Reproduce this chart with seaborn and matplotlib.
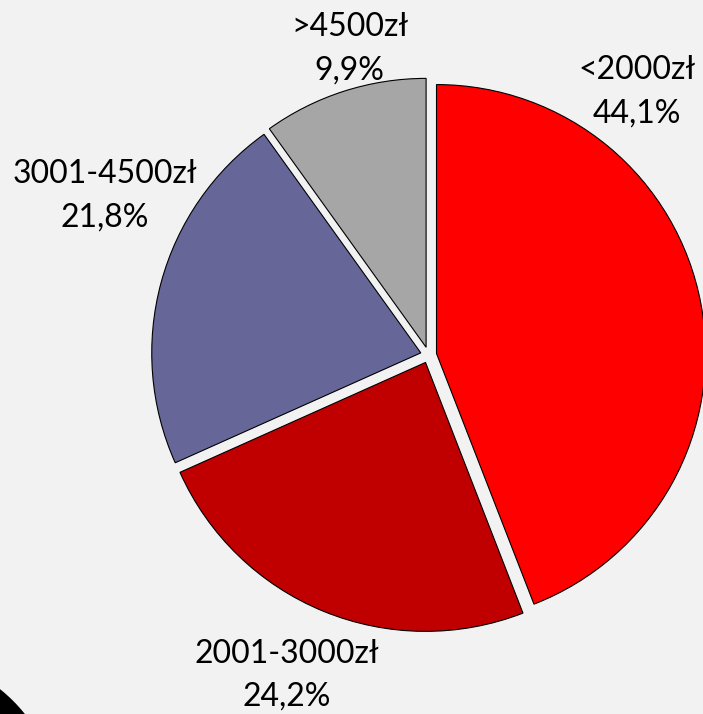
import matplotlib
matplotlib.use("Agg")
import matplotlib.pyplot as plt
import seaborn as sns
from matplotlib.patches import Circle

# data
categories = ["<2000zł", "2001-3000zł", "3001-4500zł", ">4500zł"]
shares = [44.1, 24.2, 21.8, 9.9]
slice_colors = ["#FF0000", "#C00000", "#666699", "#A6A6A6"]

# label anchor points (pie radius units)
label_x = [0.773, -0.528, -1.204, -0.294]
label_y = [0.978, -1.191, 0.591, 1.138]

sns.set_style("white")
plt.rcParams['font.family'] = ['Lato', 'DejaVu Sans']

fig = plt.figure(figsize=(7.03, 7.14), dpi=100)
fig.patch.set_facecolor("#F2F2F2")
ax = fig.add_axes([0, 0, 1, 1])
ax.set_facecolor("#F2F2F2")

palette = sns.color_palette(slice_colors)
ax.pie(shares, colors=palette, startangle=90, counterclock=False,
       explode=[0.03] * len(shares), radius=1.0,
       wedgeprops=dict(edgecolor="black", linewidth=0.8))

for name, val, lx, ly in zip(categories, shares, label_x, label_y):
    txt = "{0}\n{1}%".format(name, ("%.1f" % val).replace(".", ","))
    ax.text(lx, ly, txt, ha="center", va="center", fontsize=23,
            linespacing=1.55, color="black")

ax.set_xlim(-1.593, 1.020)
ax.set_ylim(-1.335, 1.320)
ax.set_aspect("auto")
ax.axis("off")

# dark rounded corner in the bottom left
corner = Circle((-100, -100), 160, transform=None, facecolor="black",
                edgecolor="none", zorder=5)
fig.patches.append(corner)

fig.savefig("out.png", dpi=100, facecolor=fig.get_facecolor())
